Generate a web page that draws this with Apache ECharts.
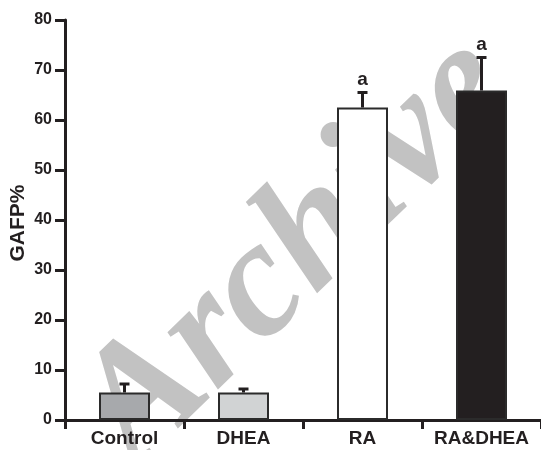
<!DOCTYPE html>
<html>
<head>
<meta charset="utf-8">
<script src="https://cdn.jsdelivr.net/npm/echarts@6/dist/echarts.min.js"></script>
<style>
html,body{margin:0;padding:0;background:#fff;}
#chart{width:541px;height:450px;}
</style>
</head>
<body>
<div id="chart"></div>
<script>
var categories = ['Control', 'DHEA', 'RA', 'RA&DHEA'];
var means = [5.5, 5.5, 62.5, 65.9];
var errors = [1.7, 0.7, 3.0, 6.6];
var sigLabels = ['', '', 'a', 'a'];
var barColors = ['#a7a9ac', '#d1d3d4', '#ffffff', '#231f20'];
var yTicks = [0, 10, 20, 30, 40, 50, 60, 70, 80];
var yAxisTitle = 'GAFP%';

var ink = '#231f20';
var chart = echarts.init(document.getElementById('chart'), null, {renderer: 'canvas'});

var errData = means.map(function (m, i) { return [i, m, m + errors[i], sigLabels[i]]; });

chart.setOption({
  animation: false,
  backgroundColor: '#ffffff',
  grid: {left: 65, right: 0, top: 20, bottom: 30, containLabel: false, outerBoundsMode: 'none'},
  graphic: [{
    type: 'text',
    z: -10,
    x: 298, y: 252,
    rotation: 0.77,
    style: {
      text: 'Archive',
      fill: '#c2c2c2',
      font: 'italic bold 166px "Liberation Serif"',
      align: 'center',
      verticalAlign: 'middle'
    },
    silent: true
  }, {
    type: 'text',
    x: 18, y: 223,
    rotation: Math.PI / 2,
    style: {
      text: yAxisTitle,
      fill: ink,
      font: 'bold 21px "Liberation Sans", Arial',
      align: 'center',
      verticalAlign: 'middle'
    },
    silent: true
  }],
  xAxis: {
    type: 'category',
    data: categories,
    boundaryGap: true,
    axisLine: {show: true, lineStyle: {color: ink, width: 3}},
    axisTick: {show: true, length: 9, interval: 0, lineStyle: {color: ink, width: 3}},
    axisLabel: {color: ink, fontFamily: 'Liberation Sans, Arial', fontWeight: 'bold', fontSize: 19, margin: 9, interval: 0},
    splitLine: {show: false}
  },
  yAxis: {
    type: 'value',
    min: 0, max: 80, interval: 10,
    axisLine: {show: true, lineStyle: {color: ink, width: 3}},
    axisTick: {show: true, length: 10, lineStyle: {color: ink, width: 3}},
    axisLabel: {color: ink, fontFamily: 'Liberation Sans, Arial', fontWeight: 'bold', fontSize: 16, margin: 13,
      formatter: function (v) { return yTicks.indexOf(v) >= 0 ? String(v) : ''; }},
    splitLine: {show: false}
  },
  series: [{
    type: 'bar',
    barWidth: 51,
    z: 2,
    data: means.map(function (m, i) {
      return {value: m, itemStyle: {color: barColors[i], borderColor: '#2b2b2b', borderWidth: 2}};
    })
  }, {
    type: 'custom',
    z: 3,
    data: errData,
    renderItem: function (params, api) {
      var x = api.value(0);
      var base = api.coord([x, api.value(1)]);
      var top = api.coord([x, api.value(2)]);
      var lbl = api.value(3);
      var children = [{
        type: 'line',
        shape: {x1: base[0], y1: base[1], x2: top[0], y2: top[1]},
        style: {stroke: ink, lineWidth: 3}
      }, {
        type: 'line',
        shape: {x1: top[0] - 5, y1: top[1], x2: top[0] + 5, y2: top[1]},
        style: {stroke: ink, lineWidth: 3}
      }];
      if (lbl) {
        children.push({
          type: 'text',
          x: top[0], y: top[1] - 3,
          style: {text: lbl, fill: ink, font: 'bold 19px "Liberation Sans", Arial', align: 'center', verticalAlign: 'bottom'}
        });
      }
      return {type: 'group', children: children};
    }
  }]
});
</script>
</body>
</html>
